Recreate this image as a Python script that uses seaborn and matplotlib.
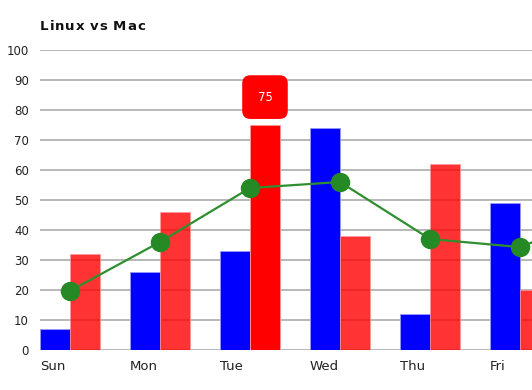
import pandas as pd
import matplotlib
matplotlib.use("Agg")
import matplotlib.pyplot as plt
import seaborn as sns

# data
days = ['Sun', 'Mon', 'Tue', 'Wed', 'Thu', 'Fri']
linux = [7, 26, 33, 74, 12, 49]
mac = [32, 46, 75, 38, 62, 20]
trend_days = ['Sun', 'Mon', 'Tue', 'Wed', 'Thu', 'Fri', 'Sat']
trend = [19.7, 36, 54, 56, 37, 34.3, 46]
y_ticks = list(range(0, 101, 10))
highlight_day = 'Tue'
highlight_value = 75
title = 'Linux vs Mac'

sns.set_style('white')
plt.rcParams['font.family'] = ['DejaVu Sans']

df = pd.DataFrame({
    'day': days * 2,
    'os': ['Linux'] * len(days) + ['Mac'] * len(days),
    'value': linux + mac,
})

fig = plt.figure(figsize=(5.32, 3.9), dpi=100)
ax = fig.add_axes([40 / 532, 40 / 390, 492 / 532, 300 / 390])

sns.barplot(data=df, x='day', y='value', hue='os',
            palette={'Linux': '#0000ff', 'Mac': '#ff0000'},
            width=2 / 3, gap=0, saturation=1, legend=False,
            ax=ax, zorder=2)

hi = days.index(highlight_day)
for p in ax.patches:
    fc = p.get_facecolor()
    cx = p.get_x() + p.get_width() / 2
    if fc[0] > 0.9 and fc[2] < 0.1:
        if abs(cx - (hi + 1 / 6)) < 0.05:
            p.set_edgecolor('#ff9999')
        else:
            p.set_alpha(0.8)
            p.set_edgecolor((1, 0.6, 0.6, 0.8))
    else:
        p.set_edgecolor('#9999ff')
    p.set_linewidth(0.6)

sns.lineplot(x=list(range(len(trend_days))), y=trend, color='#2f8f2f',
             lw=1.6, marker='o', markersize=14, markeredgewidth=0,
             markerfacecolor='#258a25', ax=ax, zorder=3)

# tooltip over highlighted bar
ax.text(hi + 1 / 6, 84.3, str(highlight_value), ha='center', va='center',
        color='white', fontsize=8.5, zorder=5,
        bbox=dict(boxstyle='round,pad=1.3,rounding_size=0.7',
                  fc='#ff0000', ec='none'))

ax.set_xlim(-1 / 3, (532 - 70) / 90)
ax.set_ylim(0, 100)
ax.set_yticks(y_ticks)
ax.set_yticklabels([str(v) for v in y_ticks], fontsize=8.5, color='#222222')
ax.set_xticks([i - 1 / 3 for i in range(len(days))])
ax.set_xticklabels(days, fontsize=9.5, color='#222222', ha='left')
ax.tick_params(axis='both', length=0)
ax.tick_params(axis='y', pad=8)
ax.tick_params(axis='x', pad=7)

ax.grid(axis='y', color='#b8b8b8', lw=1.4)
ax.grid(axis='x', visible=False)
ax.set_axisbelow(True)
for s in ax.spines.values():
    s.set_visible(False)
ax.set_xlabel('')
ax.set_ylabel('')

# title with a little letter spacing, drawn one glyph at a time
renderer = fig.canvas.get_renderer()
x_px = 40
for ch in title:
    t = fig.text(x_px / 532, 1 - 30 / 390, ch, fontsize=9.5,
                 fontweight='bold', color='#111111',
                 va='baseline', ha='left')
    if ch == ' ':
        w = 3.5
    else:
        w = t.get_window_extent(renderer).width
    x_px += w + 1.0

fig.savefig('out.png', dpi=100)
